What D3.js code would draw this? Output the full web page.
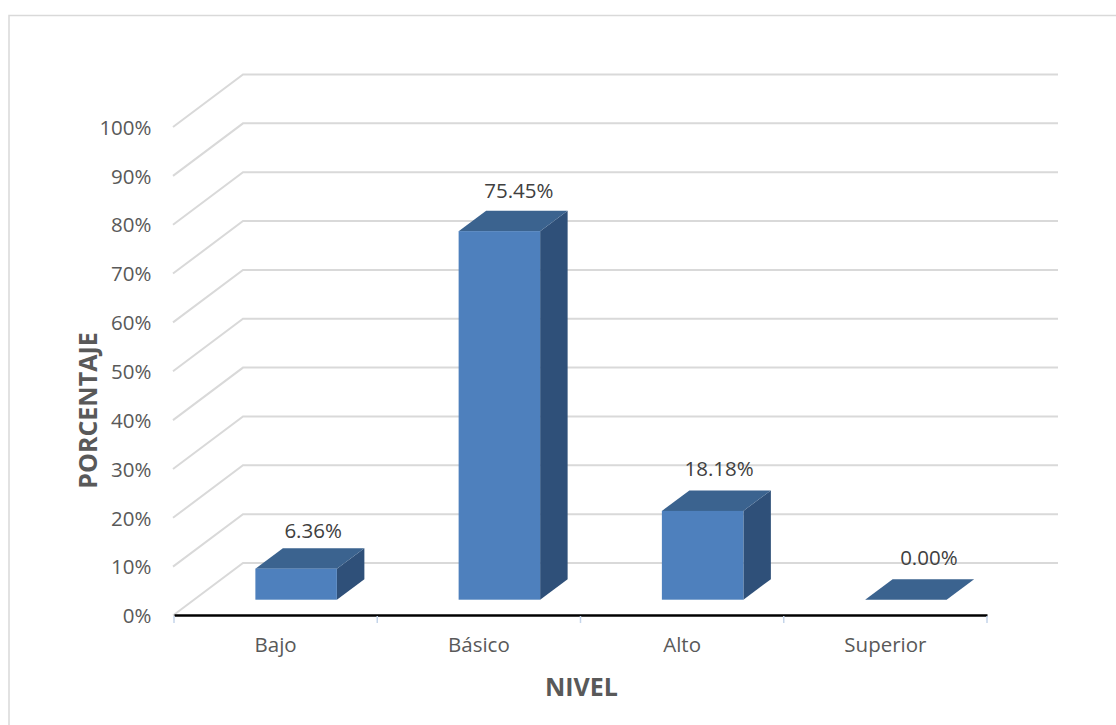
<!DOCTYPE html>
<html><head><meta charset="utf-8">
<script src="https://cdn.jsdelivr.net/npm/d3@7/dist/d3.min.js"></script>
<style>html,body{margin:0;padding:0;background:#fff}svg{display:block}text{font-family:"Open Sans",sans-serif}</style>
</head><body><div id="chart"></div>
<script>
const categories = ["Bajo","Básico","Alto","Superior"];
const values = [6.36,75.45,18.18,0.00];
const valueLabels = ["6.36%","75.45%","18.18%","0.00%"];
const yTicks = [0,10,20,30,40,50,60,70,80,90,100];
const xTitle = "NIVEL";
const yTitle = "PORCENTAJE";

const svg = d3.select("#chart").append("svg").attr("width",1116).attr("height",725);
svg.append("rect").attr("x",9).attr("y",15.5).attr("width",1200).attr("height",800)
  .attr("fill","#fff").attr("stroke","#d9d9d9").attr("stroke-width",1.5);

const x = d3.scaleBand().domain(categories).range([174,987]).paddingInner(0).paddingOuter(0);
const y = d3.scaleLinear().domain([0,100]).range([615.5,127]);
const depthX = 70, depthY = 52.5;

svg.append("g").selectAll("path").data(yTicks).join("path")
  .attr("fill","none").attr("stroke","#d9d9d9").attr("stroke-width",2)
  .attr("d",d=>d3.line()([[173,y(d)],[173+depthX,y(d)-depthY],[1058,y(d)-depthY]]));

const yAxis = svg.append("g").attr("transform","translate(151.5,0.7)")
  .call(d3.axisLeft(y).tickValues(yTicks).tickFormat(d=>d+"%").tickSize(0).tickPadding(0));
yAxis.select(".domain").remove();
yAxis.selectAll("text").attr("fill","#595959").style("font-size","20.5px").style("font-family","'Open Sans'");

const xAxis = svg.append("g").attr("transform","translate(0,615)")
  .call(d3.axisBottom(x).tickSize(0).tickPadding(22.5));
xAxis.select(".domain").attr("stroke","#000").attr("stroke-width",2.5);
xAxis.selectAll("text").attr("fill","#595959").style("font-size","20.5px").style("font-family","'Open Sans'");
svg.append("g").selectAll("line").data(d3.range(categories.length+1)).join("line")
  .attr("x1",i=>174+i*x.bandwidth()).attr("x2",i=>174+i*x.bandwidth())
  .attr("y1",616).attr("y2",623).attr("stroke","#c5d5ea").attr("stroke-width",1.5);

const barW = 81.5, offX = 20.5, offY = 15.8, bdx = 27.5, bdy = 20.5;
const labelDx = [17,19.5,16.5,23], labelDy = [31,33,35,35];
const g = svg.append("g").selectAll("g").data(categories).join("g");
const bx = (c)=>x(c)+x.bandwidth()/2-barW/2+offX;
const h = (i)=>y(0)-y(values[i]);
const base = y(0)-offY;
g.append("path").attr("fill","#2f5079")
  .attr("d",(c,i)=>{const a=bx(c)+barW,t=base-h(i);return d3.line()([[a,t],[a+bdx,t-bdy],[a+bdx,base-bdy],[a,base]])+"Z";});
g.append("path").attr("fill","#3b638f")
  .attr("d",(c,i)=>{const a=bx(c),t=base-h(i);return d3.line()([[a,t],[a+bdx,t-bdy],[a+barW+bdx,t-bdy],[a+barW,t]])+"Z";});
g.append("rect").attr("fill","#4e80bd")
  .attr("x",c=>bx(c)).attr("y",(c,i)=>base-h(i)).attr("width",barW).attr("height",(c,i)=>h(i));
g.append("text").attr("fill","#404040").style("font-size","20.5px").attr("text-anchor","middle")
  .attr("x",(c,i)=>bx(c)+barW/2+labelDx[i]).attr("y",(c,i)=>base-h(i)-labelDy[i])
  .text((c,i)=>valueLabels[i]);

svg.append("text").attr("x",581.5).attr("y",696).attr("text-anchor","middle")
  .attr("fill","#595959").style("font-size","25px").style("font-weight",700).text(xTitle);
svg.append("text").attr("transform","translate(97,410.5) rotate(-90)").attr("text-anchor","middle")
  .attr("fill","#595959").style("font-size","25px").style("font-weight",700).text(yTitle);
</script></body></html>
